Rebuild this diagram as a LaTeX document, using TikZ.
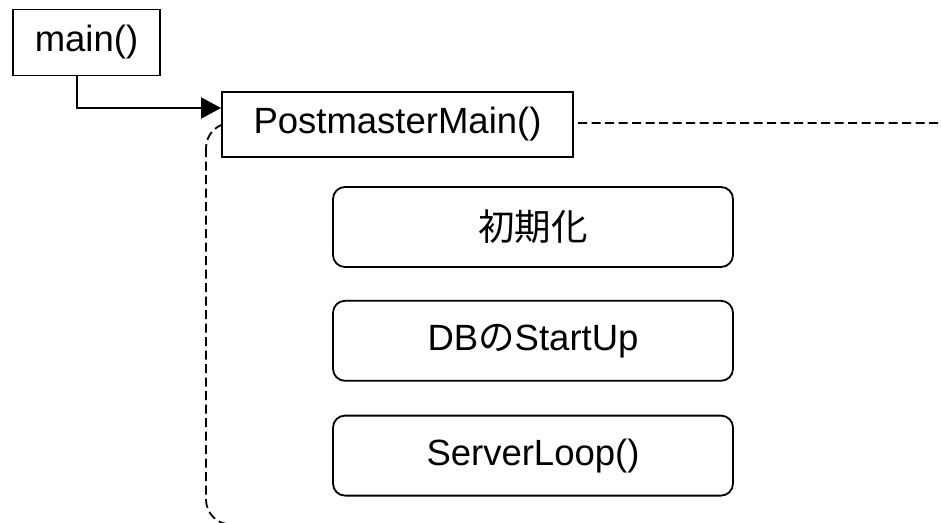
\documentclass[tikz,border=0pt]{standalone}
\usepackage{fontspec}
\setmainfont{Liberation Sans}
\newfontfamily\cjk{Noto Sans CJK JP}
\usepackage{tikz}
\usetikzlibrary{positioning, arrows.meta}
\tikzstyle{func} = [rectangle, minimum height=66pt, inner sep=0pt, text centered, draw=black, line width=1.8pt, fill=white]
\tikzstyle{stepbox} = [rectangle, rounded corners=12pt, minimum width=400pt, minimum height=80pt, inner sep=0pt, text centered, draw=black, line width=1.8pt]
\tikzstyle{frame} = [draw=black, line width=1.8pt, dash pattern=on 9pt off 4.5pt, rounded corners=25pt]
\tikzstyle{arrow} = [line width=1.8pt, -{Triangle[length=20pt, width=21pt]}]
\tikzstyle{every node}=[font=\fontsize{36.5}{40}\selectfont]

\begin{document}
\begin{tikzpicture}[x=1pt, y=-1pt, node distance=33pt]
		\useasboundingbox (0,0) rectangle (941,522);
		\clip (0,0) rectangle (941,522);
		% dashed frame of PostmasterMain
		\draw [frame] (206,123) rectangle (962,524.5);
		
		\node (main) [func, minimum width=147pt] at (86.5,42.5) {main()};
		\node (pm) [func, minimum width=351pt, minimum height=65pt] at (397.5,124.5) {PostmasterMain()};
		
		\node (init) [stepbox] at (533,227) {\cjk 初期化};
		\node (startup) [stepbox, below=32pt of init] {DB{\cjk の}StartUp};
		\node (loop) [stepbox, below=33pt of startup] {ServerLoop()};
		% main -> PostmasterMain
		\draw [arrow] ([xshift=-9.5pt]main.south) |- ([yshift=16.5pt]pm.west);
		
\end{tikzpicture}
\end{document}
